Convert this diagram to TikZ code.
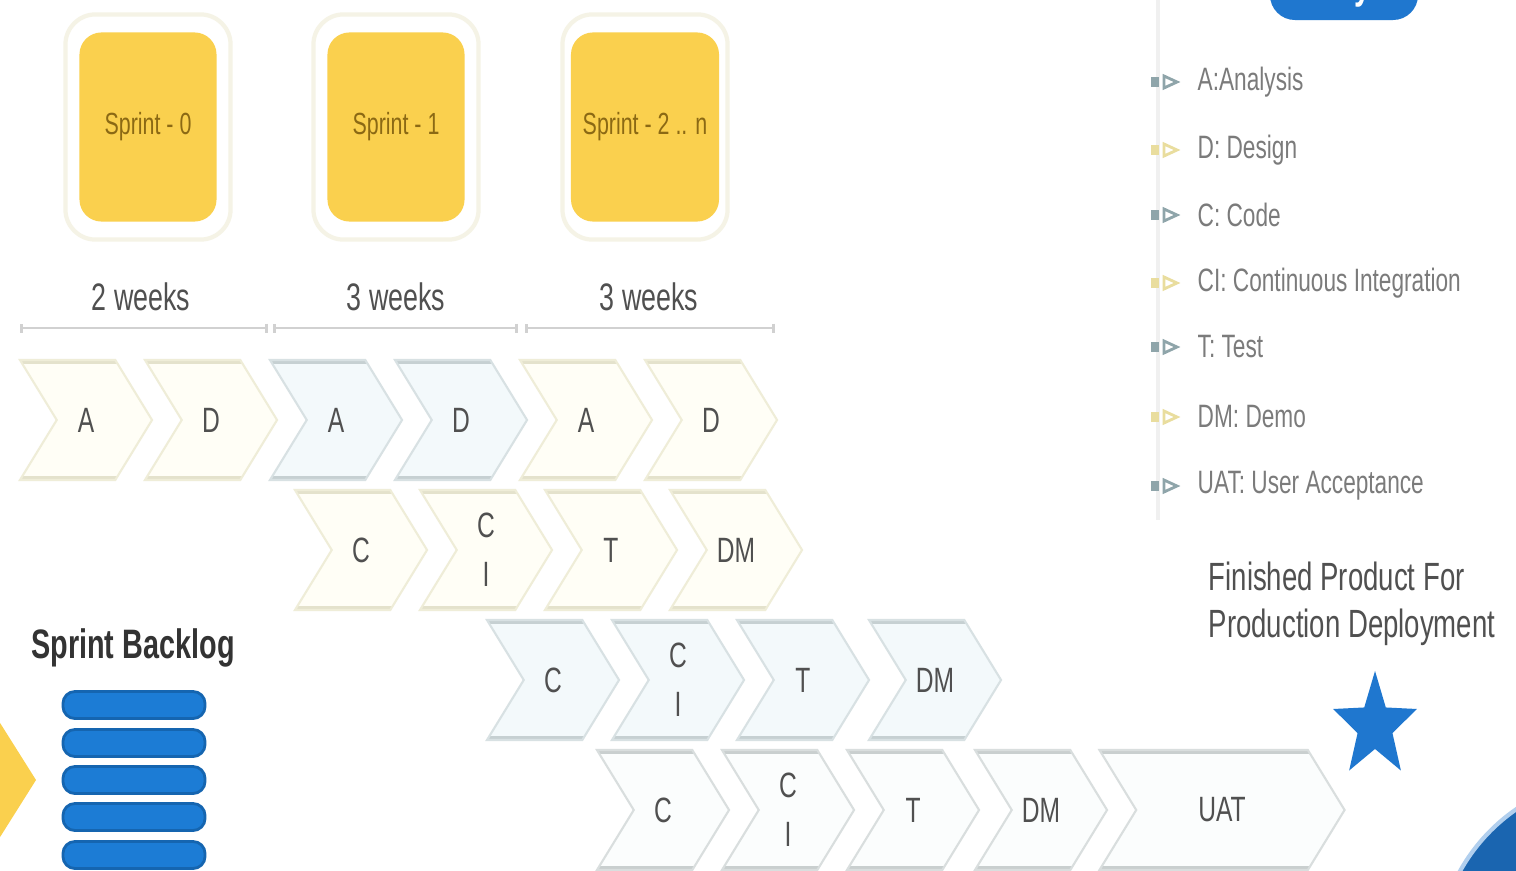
\documentclass[tikz,border=0pt]{standalone}
\usepackage{fontspec}
\setmainfont{Liberation Sans}[FakeStretch=0.7]
\usepackage{tikz}
\usetikzlibrary{shapes.geometric, shapes.symbols, arrows, arrows.meta}
\definecolor{sprintyellow}{HTML}{FAD04E}
\definecolor{sprinttext}{HTML}{8B6914}
\definecolor{cardline}{HTML}{F5F3E6}
\definecolor{chevYfill}{HTML}{FFFEF6}
\definecolor{chevYline}{HTML}{EFEDD8}
\definecolor{chevYedge}{HTML}{E4E2CC}
\definecolor{chevBfill}{HTML}{F3F9FB}
\definecolor{chevBline}{HTML}{D8E1E3}
\definecolor{chevBedge}{HTML}{C6D0D2}
\definecolor{chevGfill}{HTML}{FBFDFD}
\definecolor{chevGline}{HTML}{D9DEDE}
\definecolor{chevGedge}{HTML}{C9CFCF}
\definecolor{labelgray}{HTML}{505050}
\definecolor{keygray}{HTML}{7B7B7B}
\definecolor{iconblue}{HTML}{8FA5AA}
\definecolor{iconyellow}{HTML}{E9DD9E}
\definecolor{backblue}{HTML}{1C7CD5}
\definecolor{backline}{HTML}{1565B0}
\definecolor{keyblue}{HTML}{1F77CF}
\tikzstyle{card} = [
	rectangle,
	rounded corners=0.3cm,
	minimum width=1.65cm,
	minimum height=2.25cm,
	draw=cardline,
	line width=1.2pt,
	fill=white
]
\tikzstyle{sprint} = [
	rectangle,
	rounded corners=0.22cm,
	minimum width=1.37cm,
	minimum height=1.89cm,
	fill=sprintyellow,
	text=sprinttext,
	font=\fontsize{8.7}{10}\selectfont
]
\tikzstyle{weeks} = [text=labelgray, font=\fontsize{10.9}{12}\selectfont]
\tikzstyle{weekline} = [draw=black!18, line width=0.8pt, {Bar[width=0.09cm]}-{Bar[width=0.09cm]}]
\tikzstyle{chev} = [
	signal,
	signal from=west,
	signal to=east,
	signal pointer angle=117,
	minimum width=1.32cm,
	minimum height=1.2cm,
	inner sep=0pt,
	line width=0.6pt,
	align=center,
	text=labelgray,
	font=\fontsize{10}{14}\selectfont
]
\tikzstyle{chevY} = [chev, fill=chevYfill, draw=chevYline,
	path picture={\draw[chevYedge, line width=2.4pt] (path picture bounding box.north west) -- (path picture bounding box.north east) (path picture bounding box.south west) -- (path picture bounding box.south east);}]
\tikzstyle{chevB} = [chev, fill=chevBfill, draw=chevBline,
	path picture={\draw[chevBedge, line width=2.4pt] (path picture bounding box.north west) -- (path picture bounding box.north east) (path picture bounding box.south west) -- (path picture bounding box.south east);}]
\tikzstyle{chevG} = [chev, fill=chevGfill, draw=chevGline,
	path picture={\draw[chevGedge, line width=2.4pt] (path picture bounding box.north west) -- (path picture bounding box.north east) (path picture bounding box.south west) -- (path picture bounding box.south east);}]
\tikzstyle{keytext} = [anchor=west, inner sep=0pt, text=keygray, font=\fontsize{9.2}{11}\selectfont]
\tikzstyle{backbar} = [
	rectangle,
	rounded corners=0.12cm,
	minimum width=1.42cm,
	minimum height=0.27cm,
	fill=backblue,
	draw=backline,
	line width=0.8pt
]
\begin{document}
\begin{tikzpicture}[x=0.01cm, y=-0.01cm]
    \useasboundingbox (0, 0) rectangle (1516, 870);
    \fill[white] (0, 0) rectangle (1516, 870);
    \clip (0, 0) rectangle (1516, 870);
    \node[card] (card 0) at (148, 127) {};
    \node[card] (card 1) at (396, 127) {};
    \node[card] (card 2) at (645, 127) {};
    \node[sprint] (sprint 0) at (148, 127) {Sprint - 0};
    \node[sprint] (sprint 1) at (396, 127) {Sprint - 1};
    \node[sprint] (sprint 2) at (645, 127) {Sprint - 2 .. n};
    \node[weeks] (weeks 0) at (141, 297) {2 weeks};
    \node[weeks] (weeks 1) at (396, 297) {3 weeks};
    \node[weeks] (weeks 2) at (649, 297) {3 weeks};
    \coordinate (t0) at (20, 328);
    \coordinate (t1) at (268, 328);
    \coordinate (t2) at (273, 328);
    \coordinate (t3) at (518, 328);
    \coordinate (t4) at (525, 328);
    \coordinate (t5) at (775, 328);
    \draw[weekline] (t0) -- (t1);
    \draw[weekline] (t2) -- (t3);
    \draw[weekline] (t4) -- (t5);
    \node[chevY] (r1 a0) at (86, 420) {A};
    \node[chevY] (r1 d0) at (211, 420) {D};
    \node[chevB] (r1 a1) at (336, 420) {A};
    \node[chevB] (r1 d1) at (461, 420) {D};
    \node[chevY] (r1 a2) at (586, 420) {A};
    \node[chevY] (r1 d2) at (711, 420) {D};
    \node[chevY] (r2 c) at (361, 550) {C};
    \node[chevY] (r2 ci) at (486, 550) {C\\I};
    \node[chevY] (r2 t) at (611, 550) {T};
    \node[chevY] (r2 dm) at (736, 550) {DM};
    \node[chevB] (r3 c) at (553, 680) {C};
    \node[chevB] (r3 ci) at (678, 680) {C\\I};
    \node[chevB] (r3 t) at (803, 680) {T};
    \node[chevB] (r3 dm) at (935, 680) {DM};
    \node[chevG] (r4 c) at (663, 810) {C};
    \node[chevG] (r4 ci) at (788, 810) {C\\I};
    \node[chevG] (r4 t) at (913, 810) {T};
    \node[chevG] (r4 dm) at (1041, 810) {DM};
    \node[chevG, minimum width=2.45cm] (r4 uat) at (1222, 810) {UAT};
    \fill[sprintyellow] (-10, 707) -- (36, 780) -- (-10, 853) -- cycle;
    \node[font=\bfseries\fontsize{11.7}{13}\selectfont, text=black!80] (backlog) at (133, 648) {Sprint Backlog};
    \node[backbar] (bar 1) at (134, 705) {};
    \node[backbar] (bar 2) at (134, 743) {};
    \node[backbar] (bar 3) at (134, 780) {};
    \node[backbar] (bar 4) at (134, 817) {};
    \node[backbar] (bar 5) at (134, 855) {};
    \draw[black!6, line width=1pt] (1158, 0) -- (1158, 520);
    \node[rectangle, rounded corners=0.25cm, minimum width=1.48cm, minimum height=0.64cm, fill=keyblue, text=white, font=\bfseries\fontsize{12}{14}\selectfont] (key) at (1344, -12) {Key};
    \fill[iconblue] (1151, 77) rectangle (1159, 87);
    \draw[iconblue, line width=0.8pt] (1164, 76) -- (1177, 82) -- (1164, 88) -- cycle;
    \node[keytext] (key a) at (1197, 82) {A:Analysis};
    \fill[iconyellow] (1151, 145) rectangle (1159, 155);
    \draw[iconyellow, line width=0.8pt] (1164, 144) -- (1177, 150) -- (1164, 156) -- cycle;
    \node[keytext] (key d) at (1197, 150) {D: Design};
    \fill[iconblue] (1151, 210) rectangle (1159, 220);
    \draw[iconblue, line width=0.8pt] (1164, 209) -- (1177, 215) -- (1164, 221) -- cycle;
    \node[keytext] (key c) at (1197, 215) {C: Code};
    \fill[iconyellow] (1151, 278) rectangle (1159, 288);
    \draw[iconyellow, line width=0.8pt] (1164, 277) -- (1177, 283) -- (1164, 289) -- cycle;
    \node[keytext] (key ci) at (1197, 283) {CI: Continuous Integration};
    \fill[iconblue] (1151, 342) rectangle (1159, 352);
    \draw[iconblue, line width=0.8pt] (1164, 341) -- (1177, 347) -- (1164, 353) -- cycle;
    \node[keytext] (key t) at (1197, 347) {T: Test};
    \fill[iconyellow] (1151, 412) rectangle (1159, 422);
    \draw[iconyellow, line width=0.8pt] (1164, 411) -- (1177, 417) -- (1164, 423) -- cycle;
    \node[keytext] (key dm) at (1197, 417) {DM: Demo};
    \fill[iconblue] (1151, 481) rectangle (1159, 491);
    \draw[iconblue, line width=0.8pt] (1164, 480) -- (1177, 486) -- (1164, 492) -- cycle;
    \node[keytext] (key uat) at (1197, 486) {UAT: User Acceptance};
    \node[anchor=west, align=left, inner sep=0pt, text=labelgray, font=\fontsize{11.2}{13.4}\selectfont] (finished) at (1208, 604) {Finished Product For\\Production Deployment};
    \begin{scope}[shift={(1375, 726)}, xscale=0.8]
      \node[star, star points=5, star point ratio=2.4, minimum size=1.1cm, inner sep=0pt, fill=keyblue, transform shape] (star) at (0, 0) {};
    \end{scope}
    \fill[keyblue!85!black] (1620, 960) circle (182);
    \draw[keyblue!35, line width=1.2pt] (1620, 960) circle (183);
  \end{tikzpicture}
\end{document}
